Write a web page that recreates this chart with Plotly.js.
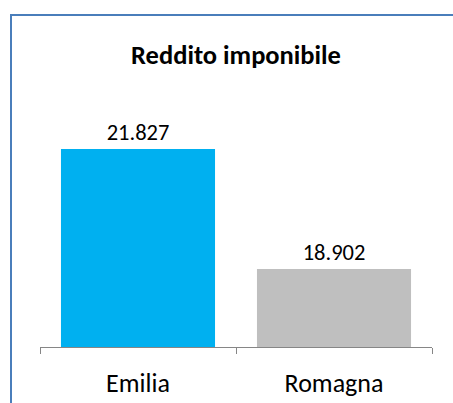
<!DOCTYPE html>
<html>
<head>
<meta charset="utf-8">
<script src="https://cdn.plot.ly/plotly-3.0.1.min.js"></script>
<style>
html,body{margin:0;padding:0;background:#fff;overflow:hidden;}
#wrap{position:relative;width:453px;height:403px;overflow:hidden;}
#chart{width:453px;height:403px;}
#frame{position:absolute;left:10px;top:14px;width:800px;height:800px;border-left:2px solid #4A7EBB;border-top:2px solid #4A7EBB;pointer-events:none;}
</style>
</head>
<body>
<div id="wrap">
<div id="chart"></div>
<div id="frame"></div>
</div>
<script>
const categories = ["Emilia", "Romagna"];
const values = [21.827, 18.902];
const labels = ["21.827", "18.902"];
const colors = ["#00B0F0", "#BFBFBF"];
const chartTitle = "Reddito imponibile";

const font = "Carlito, Lato, sans-serif";

const trace = {
  type: "bar",
  x: categories,
  y: values,
  text: labels,
  textposition: "outside",
  textfont: {family: font, size: 22.5, color: "#000"},
  cliponaxis: false,
  marker: {color: colors, line: {width: 0}},
  hoverinfo: "skip"
};

const layout = {
  width: 453,
  height: 403,
  margin: {l: 40, r: 21, t: 101, b: 56, pad: 0},
  paper_bgcolor: "#fff",
  plot_bgcolor: "#fff",
  bargap: 0.214,
  showlegend: false,
  title: {
    text: "<b>" + chartTitle + "</b>",
    font: {family: font, size: 26.5, color: "#000"},
    xref: "paper", x: 0.5, xanchor: "center",
    yref: "container", y: 1 - 55/403, yanchor: "middle"
  },
  xaxis: {
    type: "category",
    showline: true, linecolor: "#868686", linewidth: 1,
    ticks: "outside", tickson: "boundaries", ticklen: 6, tickcolor: "#868686", tickwidth: 1,
    ticklabelstandoff: 13,
    tickfont: {family: font, size: 26, color: "#000"},
    showgrid: false, zeroline: false, fixedrange: true
  },
  yaxis: {
    range: [17, 23], visible: false, showgrid: false, zeroline: false, fixedrange: true
  }
};

Plotly.newPlot("chart", [trace], layout, {displayModeBar: false, staticPlot: true});
</script>
</body>
</html>
